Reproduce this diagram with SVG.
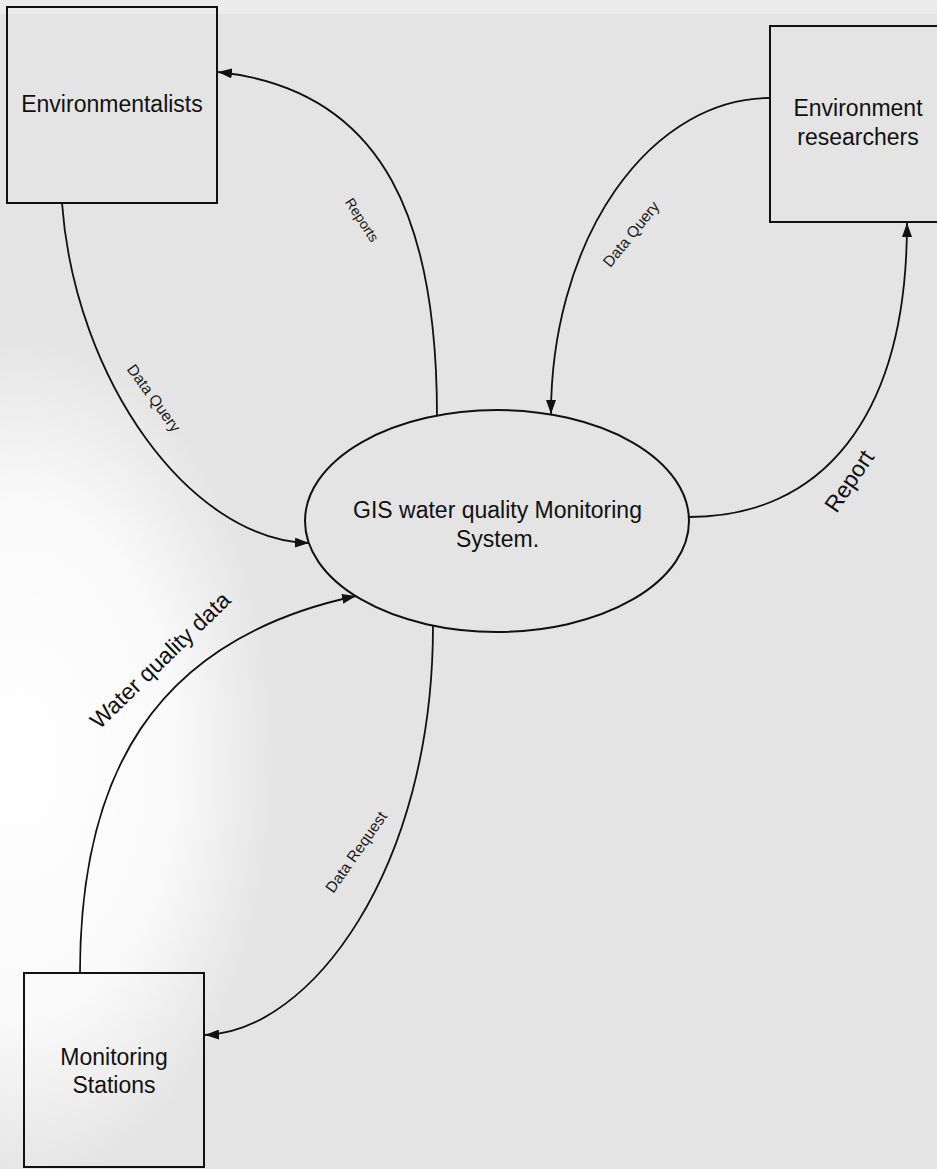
<svg xmlns="http://www.w3.org/2000/svg" width="937" height="1169" viewBox="0 0 937 1169">
  <defs>
    <style>
      .box { fill: none; stroke: #111; stroke-width: 2; }
      .proc { fill: none; stroke: #111; stroke-width: 2; }
      .flow { fill: none; stroke: #111; stroke-width: 1.8; marker-end: url(#arrow); }
      .node-label { font-family: "Liberation Sans", Arial, sans-serif; font-size: 23px; fill: #111; text-anchor: middle; }
      .flow-label { font-family: "Liberation Sans", Arial, sans-serif; font-size: 15.5px; fill: #1a1a1a; text-anchor: middle; }
      .flow-label-lg { font-family: "Liberation Sans", Arial, sans-serif; font-size: 23px; fill: #111; text-anchor: middle; }
    </style>
    <marker id="arrow" viewBox="0 0 14 10" refX="14" refY="5" markerWidth="14" markerHeight="10" markerUnits="userSpaceOnUse" orient="auto">
      <path d="M0,0 L14,5 L0,10 z" fill="#111"/>
    </marker>
    <radialGradient id="paperLight" cx="0.5" cy="0.5" r="0.5">
      <stop offset="0" stop-color="#ffffff" stop-opacity="1"/>
      <stop offset="0.6" stop-color="#ffffff" stop-opacity="0.8"/>
      <stop offset="1" stop-color="#ffffff" stop-opacity="0"/>
    </radialGradient>
  </defs>

  <!-- paper -->
  <rect x="0" y="0" width="937" height="1169" fill="#e4e4e4"/>
  <rect x="0" y="0" width="937" height="14" fill="#ececec"/>
  <ellipse cx="20" cy="760" rx="260" ry="430" fill="url(#paperLight)"/>

  <!-- data flows -->
  <g id="connectors">
    <path id="flow-reports" class="flow" d="M437,416 C437,230 390,90 218,72"/>
    <path id="flow-query-env" class="flow" d="M62,203 C75,380 190,540 309,543"/>
    <path id="flow-query-res" class="flow" d="M770,98 A219,316 0 0 0 551,414"/>
    <path id="flow-report-res" class="flow" d="M689,517 C820,517 907,420 907,223"/>
    <path id="flow-water" class="flow" d="M80,973 C80,780 150,640 356,596"/>
    <path id="flow-request" class="flow" d="M433,626 C433,870 310,1032 205,1035"/>

    <text class="flow-label" font-size="14" transform="translate(362,220) rotate(57)" dy="0.35em" style="font-size:14px">Reports</text>
    <text class="flow-label" transform="translate(154,398) rotate(54)" dy="0.35em">Data Query</text>
    <text class="flow-label" transform="translate(631,234) rotate(-51)" dy="0.35em">Data Query</text>
    <text class="flow-label" transform="translate(356,852) rotate(-55)" dy="0.35em">Data Request</text>
    <text class="flow-label-lg" transform="translate(160,660) rotate(-44)" dy="0.35em">Water quality data</text>
    <text class="flow-label-lg" transform="translate(849,481) rotate(-56)" dy="0.35em">Report</text>
  </g>

  <g id="environmentalists">
    <rect class="box" x="7" y="7" width="210" height="196"/>
    <text class="node-label" x="112" y="112">Environmentalists</text>
  </g>

  <g id="environment-researchers">
    <rect class="box" x="770" y="26" width="180" height="196"/>
    <text class="node-label" x="858" y="116">Environment</text>
    <text class="node-label" x="858" y="145">researchers</text>
  </g>

  <g id="gis-system">
    <ellipse class="proc" cx="497" cy="521" rx="192" ry="111"/>
    <text class="node-label" x="497.5" y="518">GIS water quality Monitoring</text>
    <text class="node-label" x="497.5" y="547">System.</text>
  </g>

  <g id="monitoring-stations">
    <rect class="box" x="24" y="973" width="180" height="194"/>
    <text class="node-label" x="114" y="1065">Monitoring</text>
    <text class="node-label" x="114" y="1093">Stations</text>
  </g>
</svg>
